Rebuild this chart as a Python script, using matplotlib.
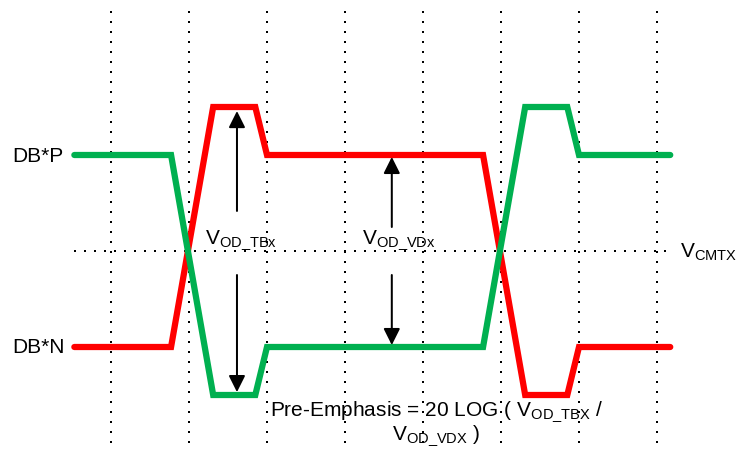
import numpy as np
import matplotlib
matplotlib.use("Agg")
import matplotlib.pyplot as plt

plt.rcParams['font.family'] = ['Liberation Sans', 'DejaVu Sans']
plt.rcParams['mathtext.default'] = 'regular'

# tid i bitperioder (rutnätslinjer vid 0..7), spänning relativt VCMTX
t_kanter = [-0.47, 0.77, 1.31, 1.85, 2.0, 4.77, 5.31, 5.85, 6.0, 7.17]
dbp_niva = [1, 1, -1.5, -1.5, -1, -1, 1.5, 1.5, 1, 1]
dbn_niva = [-1, -1, 1.5, 1.5, 1, 1, -1.5, -1.5, -1, -1]

rutnat_t = [0, 1, 2, 3, 4, 5, 6, 7]

# pilar: (t, start, slut)
pilar = [(1.615, 0.417, 1.458), (1.615, -0.25, -1.47),
         (3.60, 0.25, 0.98), (3.60, -0.25, -0.98)]

gron = '#00B050'
rod = '#FF0000'

fig = plt.figure(figsize=(7.38, 4.52), dpi=100)
ax = fig.add_axes([0, 0, 1, 1])
ax.set_xlim(-111 / 78, (738 - 111) / 78)
ax.set_ylim((252 - 452) / 96, 252 / 96)
ax.axis('off')

# prickade rutnätslinjer
for t in rutnat_t:
    ax.plot([t, t], [2.5, -2.0], color='black', lw=1.44,
            linestyle=(0, (1, 4)), zorder=1)
ax.plot([-0.47, 7.14], [0, 0], color='black', lw=1.44,
        linestyle=(0, (1, 4)), zorder=1)

# vågformerna
ax.plot(t_kanter, dbn_niva, color=rod, lw=4.5, solid_capstyle='round',
        solid_joinstyle='miter', zorder=3)
ax.plot(t_kanter, dbp_niva, color=gron, lw=4.5, solid_capstyle='round',
        solid_joinstyle='miter', zorder=3)

for t, y0, y1 in pilar:
    ax.annotate('', xy=(t, y1), xytext=(t, y0),
                arrowprops=dict(arrowstyle='-|>', color='black', lw=1.44,
                                shrinkA=0, shrinkB=0, mutation_scale=25),
                zorder=4)

fs = 15
ax.text(-1.27, 1, 'DB*P', fontsize=fs, ha='left', va='center')
ax.text(-1.27, -1, 'DB*N', fontsize=fs, ha='left', va='center')
ax.text(1.205, 0.083, 'V$_{OD\\_TBx}$', fontsize=fs, ha='left', va='baseline')
ax.text(3.22, 0.083, 'V$_{OD\\_VDx}$', fontsize=fs, ha='left', va='baseline')
ax.text(7.30, -0.06, 'V$_{CMTX}$', fontsize=fs, ha='left', va='baseline')
ax.text(4.17, -1.53, 'Pre-Emphasis = 20 LOG ( V$_{OD\\_TBX}$ /\nV$_{OD\\_VDX}$ )',
        fontsize=fs, ha='center', va='top', multialignment='center',
        linespacing=1.0)

fig.savefig('out.png', dpi=100)
